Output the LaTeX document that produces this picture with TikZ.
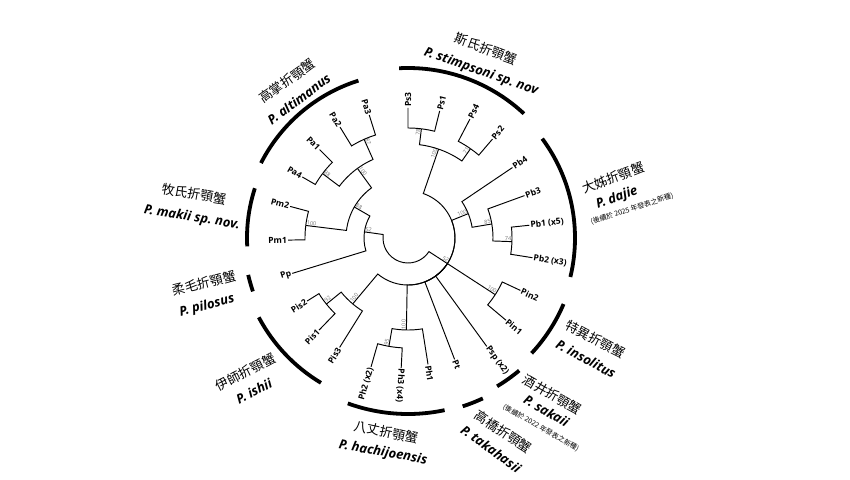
\documentclass[tikz,border=0pt]{standalone}
\usepackage{fontspec}
\setmainfont{Open Sans}
\newfontfamily\cjk{Noto Sans CJK TC}
\frenchspacing

\begin{document}
\begin{tikzpicture}[x=1pt,y=1pt]
\tikzstyle{every node}=[inner sep=1pt]
\tikzstyle{limb}=[line width=0.95pt]
\tikzstyle{cladebar}=[line width=3.8pt]
\tikzstyle{tipr}=[anchor=west,font=\bfseries\fontsize{8.5}{9}\selectfont]
\tikzstyle{tipl}=[anchor=east,font=\bfseries\fontsize{8.5}{9}\selectfont]
\tikzstyle{bootr}=[anchor=south east,inner sep=0.6pt,text=black!55,font=\fontsize{5.5}{6}\selectfont]
\tikzstyle{bootl}=[anchor=south west,inner sep=0.6pt,text=black!55,font=\fontsize{5.5}{6}\selectfont]
\tikzstyle{zhname}=[font=\cjk\fontsize{13}{14}\selectfont]
\tikzstyle{laname}=[font=\bfseries\itshape\fontsize{13}{14}\selectfont]
\tikzstyle{noteline}=[font=\cjk\fontsize{7}{8}\selectfont]
\useasboundingbox (-408,-241) rectangle (442,238);

% leaves
\draw (90:130) node (ps3) [tipr,rotate=90] {Ps3};
\draw (76:131) node (ps1) [tipr,rotate=76] {Ps1};
\draw (62.5:134) node (ps4) [tipr,rotate=62.5] {Ps4};
\draw (49.5:130) node (ps2) [tipr,rotate=49.5] {Ps2};
\draw (34:126) node (pb4) [tipr,rotate=34] {Pb4};
\draw (20:124) node (pb3) [tipr,rotate=20] {Pb3};
\draw (6:122) node (pb1) [tipr,rotate=6] {Pb1 (x5)};
\draw (-9:126) node (pb2) [tipr,rotate=-9] {Pb2 (x3)};
\draw (-25:124) node (pin2) [tipr,rotate=-25] {Pin2};
\draw (-40:128) node (pin1) [tipr,rotate=-40] {Pin1};
\draw (-54:134) node (psp) [tipr,rotate=-54] {Psp (x2)};
\draw (-69:130) node (pt) [tipr,rotate=-69] {Pt};
\draw (-81:128) node (ph1) [tipr,rotate=-81] {Ph1};
\draw (-93:130) node (ph3) [tipr,rotate=-93] {Ph3 (x4)};
\draw (-106:134) node (ph2) [tipl,rotate=74] {Ph2 (x2)};
\draw (-122:129) node (pis3) [tipl,rotate=58] {Pis3};
\draw (-134:128) node (pis1) [tipl,rotate=46] {Pis1};
\draw (-148:119) node (pis2) [tipl,rotate=32] {Pis2};
\draw (197:121) node (pp) [tipl,rotate=17] {Pp};
\draw (181:120) node (pm1) [tipl,rotate=1] {Pm1};
\draw (165:122) node (pm2) [tipl,rotate=-15] {Pm2};
\draw (150:122) node (pa4) [tipl,rotate=-30] {Pa4};
\draw (135:125) node (pa1) [tipl,rotate=-45] {Pa1};
\draw (121.5:130) node (pa2) [tipl,rotate=-58.5] {Pa2};
\draw (107.5:129) node (pa3) [tipl,rotate=-72.5] {Pa3};

% inner nodes and support values
\coordinate (root) at (249.5:25);
\coordinate (nL52) at (172:44);
\coordinate (n88a) at (150:62);
\coordinate (nPm) at (173:103);
\coordinate (nPa) at (126:86);
\coordinate (n88b) at (143:107);
\coordinate (n87) at (114:108);
\coordinate (nR52) at (-33:47);
\coordinate (nPs) at (71:94);
\coordinate (n78) at (83:110);
\coordinate (n71) at (55:109);
\coordinate (nPb) at (22:65);
\coordinate (n85) at (9.5:85);
\coordinate (n74) at (-2:104);
\coordinate (nPin) at (-33:104);
\coordinate (nPh) at (-91:92);
\coordinate (n95) at (-100:110);
\coordinate (nPis) at (-130:86);
\coordinate (n92) at (-141:105);
\node (bL52) [bootl,rotate=-8] at (nL52) {52};
\node (b88a) [bootl,rotate=-30] at (n88a) {88};
\node (bPm) [bootl,rotate=-7] at (nPm) {100};
\node (bPa) [bootl,rotate=-54] at (nPa) {100};
\node (b88b) [bootl,rotate=-37] at (n88b) {88};
\node (b87) [bootl,rotate=-66] at (n87) {87};
\node (bR52) [bootr,rotate=-33] at (nR52) {52};
\node (bPs) [bootr,rotate=71] at (nPs) {100};
\node (b78) [bootr,rotate=83] at (n78) {78};
\node (b71) [bootr,rotate=55] at (n71) {71};
\node (bPb) [bootr,rotate=22] at (nPb) {100};
\node (b85) [bootr,rotate=9.5] at (n85) {85};
\node (b74) [bootr,rotate=-2] at (n74) {74};
\node (bPin) [bootr,rotate=-33] at (nPin) {100};
\node (bPh) [bootl,rotate=89] at (nPh) {100};
\node (b95) [bootl,rotate=80] at (n95) {95};
\node (bPis) [bootl,rotate=50] at (nPis) {100};
\node (b92) [bootl,rotate=39] at (n92) {92};

% branches
\draw[limb] (nL52) -- (172:25) arc[start angle=172,end angle=249.5,radius=25];
\draw[limb] (nR52) -- (-33:25) arc[start angle=-33,end angle=-110.5,radius=25];
\draw[limb] (n88a) -- (150:44) arc[start angle=150,end angle=172,radius=44];
\draw[limb] (pp.east) -- (197:44) arc[start angle=197,end angle=172,radius=44];
\draw[limb] (nPm) -- (173:62) arc[start angle=173,end angle=150,radius=62];
\draw[limb] (nPa) -- (126:62) arc[start angle=126,end angle=150,radius=62];
\draw[limb] (pm2.east) -- (165:103) arc[start angle=165,end angle=173,radius=103];
\draw[limb] (pm1.east) -- (181:103) arc[start angle=181,end angle=173,radius=103];
\draw[limb] (n88b) -- (143:86) arc[start angle=143,end angle=126,radius=86];
\draw[limb] (n87) -- (114:86) arc[start angle=114,end angle=126,radius=86];
\draw[limb] (pa4.east) -- (150:107) arc[start angle=150,end angle=143,radius=107];
\draw[limb] (pa1.east) -- (135:107) arc[start angle=135,end angle=143,radius=107];
\draw[limb] (pa2.east) -- (121.5:108) arc[start angle=121.5,end angle=114,radius=108];
\draw[limb] (pa3.east) -- (107.5:108) arc[start angle=107.5,end angle=114,radius=108];
\draw[limb] (nPs) -- (71:47) arc[start angle=71,end angle=-33,radius=47];
\draw[limb] (nPb) -- (22:47) arc[start angle=22,end angle=-33,radius=47];
\draw[limb] (nPin) -- (nR52);
\draw[limb] (psp.west) -- (-54:47) arc[start angle=-54,end angle=-33,radius=47];
\draw[limb] (pt.west) -- (-69:47) arc[start angle=-69,end angle=-33,radius=47];
\draw[limb] (nPh) -- (-91:47) arc[start angle=-91,end angle=-33,radius=47];
\draw[limb] (nPis) -- (-130:47) arc[start angle=-130,end angle=-33,radius=47];
\draw[limb] (n78) -- (83:94) arc[start angle=83,end angle=71,radius=94];
\draw[limb] (n71) -- (55:94) arc[start angle=55,end angle=71,radius=94];
\draw[limb] (ps3.west) -- (90:110) arc[start angle=90,end angle=83,radius=110];
\draw[limb] (ps1.west) -- (76:110) arc[start angle=76,end angle=83,radius=110];
\draw[limb] (ps4.west) -- (62.5:109) arc[start angle=62.5,end angle=55,radius=109];
\draw[limb] (ps2.west) -- (49.5:109) arc[start angle=49.5,end angle=55,radius=109];
\draw[limb] (pb4.west) -- (34:65) arc[start angle=34,end angle=22,radius=65];
\draw[limb] (n85) -- (9.5:65) arc[start angle=9.5,end angle=22,radius=65];
\draw[limb] (pb3.west) -- (20:85) arc[start angle=20,end angle=9.5,radius=85];
\draw[limb] (n74) -- (-2:85) arc[start angle=-2,end angle=9.5,radius=85];
\draw[limb] (pb1.west) -- (6:104) arc[start angle=6,end angle=-2,radius=104];
\draw[limb] (pb2.west) -- (-9:104) arc[start angle=-9,end angle=-2,radius=104];
\draw[limb] (pin2.west) -- (-25:104) arc[start angle=-25,end angle=-33,radius=104];
\draw[limb] (pin1.west) -- (-40:104) arc[start angle=-40,end angle=-33,radius=104];
\draw[limb] (ph1.west) -- (-81:92) arc[start angle=-81,end angle=-91,radius=92];
\draw[limb] (n95) -- (-100:92) arc[start angle=-100,end angle=-91,radius=92];
\draw[limb] (ph3.west) -- (-93:110) arc[start angle=-93,end angle=-100,radius=110];
\draw[limb] (ph2.east) -- (-106:110) arc[start angle=-106,end angle=-100,radius=110];
\draw[limb] (pis3.east) -- (-122:86) arc[start angle=-122,end angle=-130,radius=86];
\draw[limb] (n92) -- (-141:86) arc[start angle=-141,end angle=-130,radius=86];
\draw[limb] (pis1.east) -- (-134:105) arc[start angle=-134,end angle=-141,radius=105];
\draw[limb] (pis2.east) -- (-148:105) arc[start angle=-148,end angle=-141,radius=105];

% clade bars
\draw[cladebar] (93:170) arc[start angle=93,end angle=47,radius=170];
\draw[cladebar] (36.5:167) arc[start angle=36.5,end angle=-13.5,radius=167];
\draw[cladebar] (-23:169) arc[start angle=-23,end angle=-43,radius=169];
\draw[cladebar] (-50:173) arc[start angle=-50,end angle=-59,radius=173];
\draw[cladebar] (-65:177) arc[start angle=-65,end angle=-72,radius=177];
\draw[cladebar] (-78:176) arc[start angle=-78,end angle=-110,radius=176];
\draw[cladebar] (-121:169) arc[start angle=-121,end angle=-152,radius=169];
\draw[cladebar] (-161:164) arc[start angle=-161,end angle=-167,radius=164];
\draw[cladebar] (162:161) arc[start angle=162,end angle=183,radius=161];
\draw[cladebar] (107.5:165) arc[start angle=107.5,end angle=153,radius=165];

% clade names
\node (zhPs) [zhname,rotate=-21] at (78,189) {斯氏折顎蟹};
\node (laPs) [laname,rotate=-19] at (73,166) {P. stimpsoni sp. nov};
\node (zhPb) [zhname,rotate=20] at (205,60) {大姊折顎蟹};
\node (laPb) [laname,rotate=20] at (209,40) {P. dajie};
\node (ntPb) [noteline,rotate=18] at (224,29) {(後續於 2025 年發表之新種)};
\node (zhPin) [zhname,rotate=-28] at (187.5,-101) {特異折顎蟹};
\node (laPin) [laname,rotate=-28] at (178,-121) {P. insolitus};
\node (zhPsp) [zhname,rotate=-30] at (144.5,-157) {酒井折顎蟹};
\node (laPsp) [laname,rotate=-30] at (138.5,-173) {P. sakaii};
\node (ntPsp) [noteline,rotate=-30] at (133,-190) {(後續於 2022 年發表之新種)};
\node (zhPt) [zhname,rotate=-34] at (95.5,-194) {高橋折顎蟹};
\node (laPt) [laname,rotate=-36] at (83,-211) {P. takahasii};
\node (zhPh) [zhname,rotate=-12] at (-22,-194) {八丈折顎蟹};
\node (laPh) [laname,rotate=-10] at (-25,-215) {P. hachijoensis};
\node (zhPis) [zhname,rotate=27] at (-162.5,-134) {伊師折顎蟹};
\node (laPis) [laname,rotate=27] at (-154,-153) {P. ishii};
\node (zhPp) [zhname,rotate=14] at (-204,-45) {柔毛折顎蟹};
\node (laPp) [laname,rotate=14] at (-201,-68) {P. pilosus};
\node (zhPm) [zhname,rotate=-10] at (-214,44) {牧氏折顎蟹};
\node (laPm) [laname,rotate=-9] at (-216,20) {P. makii sp. nov.};
\node (zhPa) [zhname,rotate=35] at (-121,157) {高掌折顎蟹};
\node (laPa) [laname,rotate=37] at (-109,139) {P. altimanus};
\end{tikzpicture}
\end{document}
